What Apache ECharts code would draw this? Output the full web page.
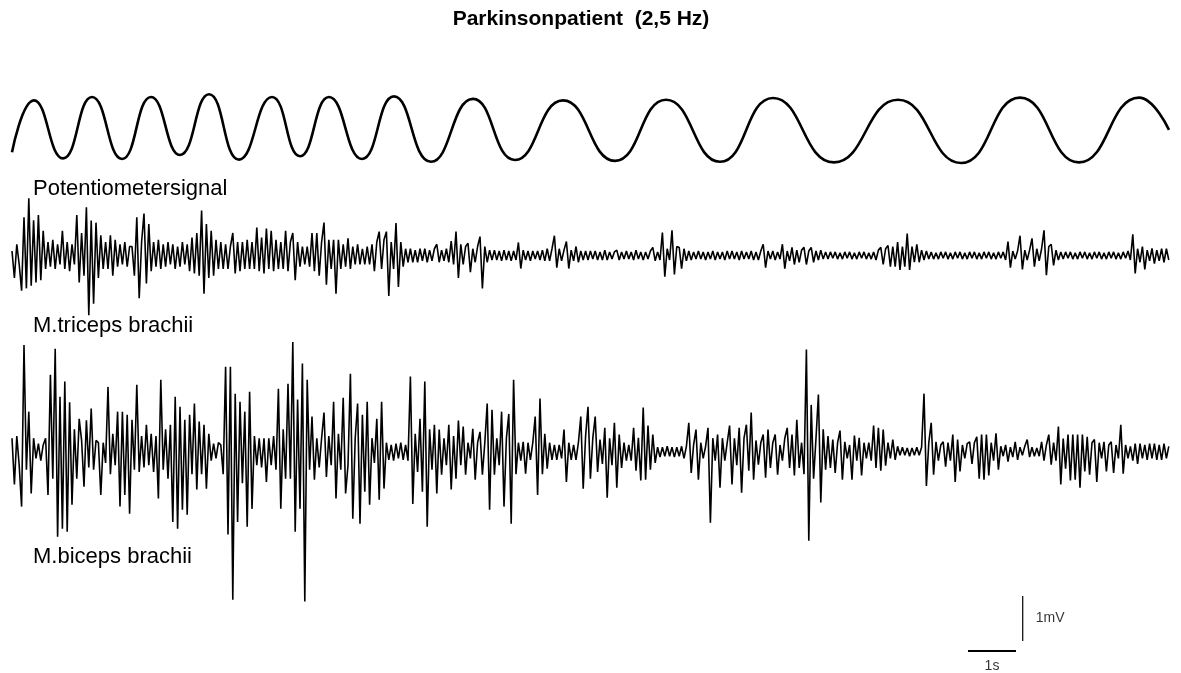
<!DOCTYPE html>
<html>
<head>
<meta charset="utf-8">
<script src="https://cdn.jsdelivr.net/npm/echarts@6/dist/echarts.min.js"></script>
<style>html,body{margin:0;padding:0;background:#fff}#c{width:1181px;height:673px}</style>
</head>
<body>
<div id="c"></div>
<script>
// ---------------- data ----------------
const chartTitle = 'Parkinsonpatient  (2,5 Hz)';
const traceNames = ['Potentiometersignal', 'M.triceps brachii', 'M.biceps brachii'];

const sineTime = [0, 0.458, 1.063, 1.667, 2.292, 2.896, 3.5, 4.104, 4.729, 5.417, 6.0, 6.604, 7.292, 7.958, 8.729,
  9.604, 10.479, 11.479, 12.563, 13.625, 14.75, 15.854, 17.125, 18.458, 19.771, 21.0, 22.229, 23.479, 24.104];
const sineValue = [-0.78, 0.89, -0.98, 1.0, -1.0, 1.0, -0.87, 1.09, -1.02, 1.0, -0.91, 1.0, -1.0, 1.02, -1.09,
  0.94, -1.03, 0.89, -1.06, 0.91, -1.09, 0.97, -1.11, 0.91, -1.13, 0.98, -1.11, 0.98, -0.06];

// EMG traces, one value (mV) every emgStep seconds
const emgStep = 0.05;
const tricepsMv = [
  0.1,-0.5,0.25,-0.2,-0.78,0.85,-0.73,1.27,-0.67,0.78,
  -0.6,0.9,-0.55,0.55,-0.3,0.3,-0.25,0.35,-0.3,0.25,
  -0.2,0.55,-0.3,0.3,-0.35,0.25,-0.2,0.9,-0.6,0.5,
  -0.45,1.07,-1.33,0.78,-1.07,0.73,-0.5,0.45,-0.3,0.3,
  -0.3,0.45,-0.45,0.35,-0.25,0.25,-0.2,0.3,-0.25,0.2,
  0.2,-0.45,0.85,-0.95,0.3,0.93,-0.62,0.7,-0.35,0.3,
  -0.25,0.35,-0.3,0.25,-0.25,0.3,-0.2,0.25,-0.3,0.2,
  -0.25,0.3,-0.2,0.25,-0.35,0.4,-0.4,0.5,-0.45,1.0,
  -0.85,0.7,-0.5,0.55,-0.45,0.35,-0.3,0.3,-0.3,0.25,
  -0.3,0.2,0.5,-0.4,0.3,-0.35,0.3,-0.3,0.35,-0.3,
  0.3,-0.3,0.62,-0.35,0.4,-0.4,0.6,-0.3,0.55,-0.35,
  0.35,-0.3,0.3,-0.3,0.55,-0.35,0.3,0.5,-0.55,0.3,
  -0.25,0.2,-0.2,0.2,-0.25,0.5,-0.35,0.5,-0.45,0.3,
  0.73,-0.65,0.35,-0.3,0.35,-0.85,0.35,-0.3,0.25,-0.25,
  0.38,-0.3,0.2,-0.2,0.25,-0.2,0.15,-0.2,0.2,-0.2,
  0.25,-0.35,0.3,0.53,-0.3,0.35,0.53,-0.9,0.3,-0.3,
  0.72,-0.7,0.3,-0.25,0.15,-0.15,0.15,-0.15,0.12,-0.15,
  0.15,-0.12,0.15,-0.15,0.12,-0.12,0.15,0.25,-0.15,0.12,
  -0.12,0.15,-0.15,0.32,-0.2,0.53,-0.5,0.25,-0.2,0.2,
  0.27,-0.37,0.15,-0.15,0.2,0.42,-0.73,0.2,-0.15,0.12,
  -0.1,0.12,-0.1,0.1,-0.12,0.12,-0.1,0.1,-0.12,0.1,
  -0.1,0.29,-0.29,0.12,-0.1,0.1,-0.12,0.1,-0.08,0.1,
  -0.1,0.12,-0.12,0.15,-0.12,0.15,0.44,-0.27,0.15,-0.12,
  0.12,0.31,-0.29,0.12,-0.12,0.2,-0.15,0.1,-0.1,0.1,
  -0.1,0.1,-0.08,0.1,-0.1,0.08,-0.1,0.12,-0.1,0.08,
  -0.08,0.08,0.12,-0.1,0.08,-0.08,0.1,-0.08,0.08,-0.1,
  0.12,-0.08,0.08,-0.1,0.08,-0.08,0.1,0.18,-0.12,0.08,
  -0.1,0.51,-0.47,0.15,-0.1,0.56,-0.42,0.2,0.18,-0.29,
  0.15,-0.12,0.1,-0.1,0.08,-0.08,0.1,-0.08,0.08,-0.1,
  0.08,-0.08,0.1,-0.1,0.08,-0.08,0.08,-0.1,0.1,-0.08,
  0.1,-0.08,0.08,-0.1,0.1,-0.08,0.08,-0.08,0.1,-0.1,
  0.08,-0.1,0.1,0.25,-0.27,0.1,-0.08,0.1,-0.1,0.08,
  -0.08,0.25,-0.29,0.1,-0.12,0.18,-0.2,0.12,-0.15,0.12,
  0.18,-0.2,0.1,0.18,-0.15,0.1,-0.1,0.12,-0.08,0.08,
  -0.08,0.08,-0.06,0.08,-0.08,0.06,-0.08,0.08,-0.06,0.08,
  -0.08,0.06,-0.08,0.08,-0.06,0.08,-0.08,0.06,-0.08,0.08,
  -0.1,0.12,0.18,-0.2,0.15,0.22,-0.25,0.2,-0.25,0.3,
  -0.32,0.2,-0.25,0.49,-0.32,0.2,-0.15,0.25,-0.15,0.12,
  -0.1,0.1,-0.08,0.08,-0.08,0.06,-0.08,0.08,-0.06,0.08,
  -0.08,0.06,-0.08,0.08,-0.06,0.08,-0.08,0.06,-0.08,0.08,
  -0.06,0.08,-0.08,0.06,-0.08,0.08,-0.06,0.08,-0.08,0.06,
  -0.08,0.08,-0.06,0.08,-0.1,0.31,-0.27,0.1,-0.08,0.1,
  0.44,-0.31,0.12,-0.1,0.12,0.38,-0.25,0.15,-0.12,0.15,
  0.56,-0.44,0.2,0.25,-0.22,0.12,-0.1,0.08,-0.08,0.08,
  -0.06,0.08,-0.08,0.06,-0.08,0.08,-0.06,0.08,-0.08,0.06,
  -0.08,0.08,-0.06,0.08,-0.08,0.06,-0.08,0.08,-0.06,0.08,
  -0.08,0.06,-0.08,0.08,-0.06,0.1,-0.1,0.47,-0.4,0.15,
  -0.15,0.2,-0.31,0.12,-0.12,0.16,-0.18,0.12,-0.12,0.15,
  -0.15,0.15,-0.1
];
const bicepsMv = [
  0.3,-0.73,0.35,-0.3,-1.22,2.37,-0.4,0.89,-0.93,0.3,
  -0.15,0.18,-0.2,0.15,0.3,-0.96,1.71,-0.6,2.29,-1.89,
  1.22,-1.71,1.56,-1.78,1.1,-1.18,0.5,-0.6,0.73,0.25,
  -0.78,0.7,-0.35,0.96,-0.4,0.25,0.2,-0.96,0.2,-0.25,
  1.44,-0.5,0.4,-0.3,0.89,-1.22,0.89,-0.96,0.82,-1.38,
  0.71,-0.4,1.49,-0.45,0.35,-0.35,0.6,-0.3,0.4,-0.45,
  0.35,-1.04,1.6,-0.4,0.5,-0.6,0.6,-1.56,1.22,-1.71,
  1.0,-1.29,0.71,-1.4,0.82,-0.5,1.07,-0.84,0.67,-0.5,
  0.6,-0.82,0.4,-0.2,0.18,-0.15,0.2,0.15,-0.5,1.89,
  -1.84,1.89,-3.29,1.29,-1.56,1.11,-0.7,0.89,-1.67,1.33,
  -1.27,0.35,-0.3,0.3,-0.35,0.3,-0.67,0.3,-0.3,0.35,
  -0.4,1.4,-1.27,0.5,-0.6,1.51,-0.6,2.44,-1.78,1.16,
  -1.27,1.96,-3.33,1.6,-0.4,0.78,-0.62,0.3,-0.35,0.3,
  0.87,-0.56,0.35,-0.3,1.11,-1.04,0.4,-0.4,1.2,-0.93,
  -0.3,1.73,-1.49,0.3,1.07,-1.6,0.82,-0.89,1.11,-1.18,
  0.3,-0.25,0.73,-1.07,1.11,-0.82,0.2,-0.18,0.15,-0.2,
  0.18,-0.15,0.2,-0.18,0.15,-0.2,1.67,-1.16,0.4,-0.45,
  0.73,-0.89,1.56,-1.67,0.5,-0.4,0.6,-0.93,0.49,-0.51,
  0.3,-0.3,0.6,-0.84,0.35,-0.6,0.69,-0.3,0.56,-0.51,
  0.2,-0.15,0.51,-0.62,0.2,0.44,-0.51,0.2,1.07,-1.29,
  0.93,-0.51,0.3,-0.3,0.89,-1.22,0.3,0.84,-1.6,1.6,
  -0.5,0.2,-0.2,0.22,-0.49,0.2,-0.18,0.2,0.78,-0.96,
  1.18,-0.5,0.4,-0.38,0.2,-0.18,0.15,-0.18,0.15,-0.15,
  0.49,-0.67,0.2,-0.18,0.15,-0.18,0.2,0.78,-0.82,0.35,
  1.0,-0.6,0.3,0.78,-0.45,0.27,-0.27,0.53,-1.02,0.3,
  -0.3,0.64,-0.8,0.38,-0.36,0.2,-0.2,0.15,-0.2,0.53,
  -0.42,0.31,-0.64,0.98,-0.62,0.58,-0.4,0.38,-0.25,0.1,
  -0.12,0.1,-0.1,0.12,-0.1,0.1,-0.12,0.1,-0.1,0.12,
  -0.15,0.12,0.64,-0.47,0.15,0.49,-0.62,0.2,-0.15,0.12,
  0.53,-1.58,0.3,-0.2,0.38,-0.8,0.3,-0.2,0.2,0.58,
  -0.73,0.3,-0.3,0.53,-0.91,0.3,0.6,-0.42,0.87,-0.62,
  0.25,-0.29,0.2,0.38,-0.58,0.49,-0.36,0.2,0.38,-0.51,
  0.15,-0.2,0.3,0.53,-0.36,0.38,-0.53,0.71,-0.36,0.2,
  -0.5,2.27,-1.98,1.04,-0.6,0.3,1.27,-1.13,0.5,-0.4,
  0.35,-0.36,0.27,-0.47,0.2,0.47,-0.62,0.22,-0.15,0.15,
  -0.62,0.36,-0.2,0.31,-0.53,0.2,-0.15,0.2,-0.2,0.58,
  -0.36,0.53,-0.42,0.49,-0.31,0.2,-0.15,0.27,-0.18,0.12,
  -0.08,0.1,-0.08,0.08,-0.1,0.08,-0.08,0.1,-0.08,0.1,
  1.29,-0.76,0.2,0.64,-0.51,0.22,-0.2,0.15,0.22,-0.33,
  0.2,-0.2,0.38,-0.67,0.27,-0.44,0.15,-0.15,0.18,0.22,
  -0.27,0.2,0.33,-0.6,0.38,-0.62,0.38,-0.53,0.2,-0.2,
  0.41,-0.4,0.12,-0.1,0.15,-0.22,0.1,-0.12,0.22,-0.18,
  0.1,-0.08,0.12,0.27,-0.12,0.1,-0.1,0.08,-0.1,0.22,
  -0.2,0.15,0.38,-0.29,0.2,-0.2,0.56,-0.73,0.29,-0.38,
  0.38,-0.64,0.38,-0.62,0.38,-0.8,0.38,-0.44,0.33,-0.51,
  0.2,0.27,-0.67,0.2,-0.15,0.22,-0.44,0.15,0.22,-0.47,
  0.15,-0.15,0.6,-0.49,0.15,-0.15,0.12,-0.2,0.18,-0.27,
  0.18,-0.15,0.15,-0.18,0.18,-0.15,0.18,-0.18,0.15,-0.18,
  0.18,-0.15,0.12
];

// scale bars
const scaleBarSeconds = 1;
const scaleBarMillivolts = 1;
const scaleLabels = ['1s', '1mV'];

// ---------------- layout / style ----------------
const FONT = '"Liberation Sans", Arial, Helvetica, sans-serif';
const T_END = 24.125;          // seconds spanned by the traces
const PLOT_LEFT = 12, PLOT_WIDTH = 1158;
const INK = '#000';

const emgPairs = vals => vals.map((v, i) => [Math.round(i * emgStep * 1000) / 1000, v]);
const sinePairs = sineTime.map((t, i) => [t, sineValue[i]]);

const traceGrid = (top, height) => ({left: PLOT_LEFT, width: PLOT_WIDTH, top: top, height: height});

const option = {
  animation: false,
  backgroundColor: '#fff',
  grid: [
    traceGrid(66, 124),        // potentiometer, +-2 units
    traceGrid(165.5, 180),     // triceps, +-2 mV
    traceGrid(294.2, 315),     // biceps, +-3.5 mV
    {left: 968, width: 60, top: 596, height: 55}  // scale bar box: 48 px/s, 45 px/mV
  ],
  xAxis: [0, 1, 2].map(g => ({type: 'value', gridIndex: g, min: 0, max: T_END, show: false}))
    .concat([{type: 'value', gridIndex: 3, min: 0, max: 1.25, show: false}]),
  yAxis: [
    {gridIndex: 0, min: -2, max: 2},
    {gridIndex: 1, min: -2, max: 2},
    {gridIndex: 2, min: -3.5, max: 3.5},
    {gridIndex: 3, min: 0, max: 55 / 45}
  ].map(a => Object.assign({type: 'value', show: false}, a)),
  series: [
    {
      name: traceNames[0], type: 'line', xAxisIndex: 0, yAxisIndex: 0,
      data: sinePairs, smooth: 0.5, symbol: 'none', silent: true,
      lineStyle: {color: INK, width: 2.6}
    },
    {
      name: traceNames[1], type: 'line', xAxisIndex: 1, yAxisIndex: 1,
      data: emgPairs(tricepsMv), symbol: 'none', silent: true, sampling: null,
      lineStyle: {color: INK, width: 1.6}
    },
    {
      name: traceNames[2], type: 'line', xAxisIndex: 2, yAxisIndex: 2,
      data: emgPairs(bicepsMv), symbol: 'none', silent: true, sampling: null,
      lineStyle: {color: INK, width: 1.6}
    },
    {
      name: 'time scale', type: 'line', xAxisIndex: 3, yAxisIndex: 3,
      data: [[0, 0], [scaleBarSeconds, 0]], symbol: 'none', silent: true, clip: false,
      lineStyle: {color: INK, width: 2}
    },
    {
      name: 'voltage scale', type: 'line', xAxisIndex: 3, yAxisIndex: 3,
      data: [[1.14, 0.222], [1.14, 0.222 + scaleBarMillivolts]], symbol: 'none', silent: true, clip: false,
      lineStyle: {color: INK, width: 1.2}
    },
    {
      name: 'scale labels', type: 'scatter', xAxisIndex: 3, yAxisIndex: 3, symbolSize: 0, silent: true, clip: false,
      data: [
        {value: [scaleBarSeconds / 2, 0], label: {show: true, position: 'bottom', distance: 8, formatter: scaleLabels[0]}},
        {value: [1.14, 0.222 + scaleBarMillivolts / 2], label: {show: true, position: 'right', distance: 13, formatter: scaleLabels[1]}}
      ],
      label: {color: INK, fontFamily: FONT, fontSize: 14}
    }
  ],
  graphic: [
    {type: 'text', x: 581, y: 19, silent: true,
      style: {text: chartTitle, fill: INK, font: 'bold 21px ' + FONT, align: 'center', verticalAlign: 'middle'}},
    {type: 'text', x: 33, y: 189, silent: true,
      style: {text: traceNames[0], fill: INK, font: '22px ' + FONT, align: 'left', verticalAlign: 'middle'}},
    {type: 'text', x: 33, y: 326, silent: true,
      style: {text: traceNames[1], fill: INK, font: '22px ' + FONT, align: 'left', verticalAlign: 'middle'}},
    {type: 'text', x: 33, y: 557, silent: true,
      style: {text: traceNames[2], fill: INK, font: '22px ' + FONT, align: 'left', verticalAlign: 'middle'}}
  ]
};

const chart = echarts.init(document.getElementById('c'), null, {renderer: 'canvas', width: 1181, height: 673});
chart.setOption(option);
</script>
</body>
</html>
